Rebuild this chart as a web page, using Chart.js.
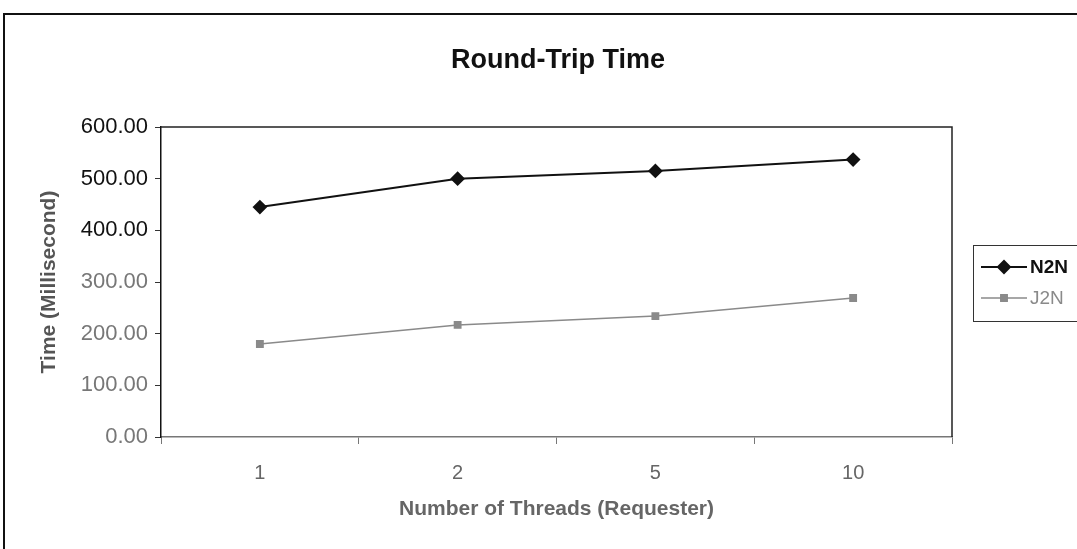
<!DOCTYPE html>
<html>
<head>
<meta charset="utf-8">
<script src="https://cdn.jsdelivr.net/npm/chart.js@4/dist/chart.umd.min.js"></script>
<style>
    body { margin: 0; background: #fff; }
    #wrap { width: 1077px; height: 549px; position: relative; }
</style>
</head>
<body>
<div id="wrap"><canvas id="graficoRtt"></canvas></div>
<script>
// dados
const threads = ["1", "2", "5", "10"];
const n2nTimes = [445, 500, 515, 537];
const j2nTimes = [180, 217, 234, 269];
const yTicks = [0, 100, 200, 300, 400, 500, 600];

const fontFamily = "'Liberation Sans', Arial, sans-serif";

// moldura, título, borda da área do gráfico e legenda
const decorPlugin = {
    id: "decor",
    beforeDraw(chart) {
        const ctx = chart.ctx;
        ctx.save();
        ctx.strokeStyle = "#111";
        ctx.lineWidth = 2;
        ctx.beginPath();
        ctx.moveTo(4, 549);
        ctx.lineTo(4, 14);
        ctx.lineTo(1077, 14);
        ctx.stroke();
        ctx.restore();
    },
    afterDraw(chart) {
        const ctx = chart.ctx;
        const area = chart.chartArea;
        ctx.save();

        // título
        ctx.fillStyle = "#111";
        ctx.font = "bold 27px " + fontFamily;
        ctx.textAlign = "center";
        ctx.textBaseline = "middle";
        ctx.fillText("Round-Trip Time", 558, 61);

        // topo e lado direito da área
        ctx.strokeStyle = "#222";
        ctx.lineWidth = 1.5;
        ctx.beginPath();
        ctx.moveTo(area.left, area.top);
        ctx.lineTo(area.right, area.top);
        ctx.lineTo(area.right, area.bottom);
        ctx.stroke();

        // legenda com borda
        const lx = 973, ly = 245, lw = 110, lh = 76;
        ctx.strokeStyle = "#333";
        ctx.lineWidth = 1;
        ctx.strokeRect(lx + 0.5, ly + 0.5, lw, lh);
        chart.data.datasets.forEach(function (ds, i) {
            const y = ly + 22 + i * 31;
            ctx.strokeStyle = ds.borderColor;
            ctx.lineWidth = ds.borderWidth;
            ctx.beginPath();
            ctx.moveTo(lx + 8, y);
            ctx.lineTo(lx + 54, y);
            ctx.stroke();
            Chart.helpers.drawPoint(ctx, {
                pointStyle: ds.pointStyle,
                radius: ds.pointRadius,
                borderWidth: 1,
                rotation: 0
            }, lx + 31, y);
            ctx.fillStyle = ds.borderColor;
            ctx.strokeStyle = ds.borderColor;
            ctx.fill();
            ctx.font = (i === 0 ? "bold " : "") + "19px " + fontFamily;
            ctx.textAlign = "left";
            ctx.fillText(ds.label, lx + 57, y + 1);
        });
        ctx.restore();
    }
};

const ctx = document.getElementById("graficoRtt").getContext("2d");

new Chart(ctx, {
    type: "line",
    data: {
        labels: threads,
        datasets: [
            {
                label: "N2N",
                data: n2nTimes,
                borderColor: "#111",
                backgroundColor: "#111",
                borderWidth: 2,
                pointStyle: "rectRot",
                pointRadius: 6,
                pointHoverRadius: 6,
                tension: 0
            },
            {
                label: "J2N",
                data: j2nTimes,
                borderColor: "#8a8a8a",
                backgroundColor: "#8a8a8a",
                borderWidth: 1.5,
                pointStyle: "rect",
                pointRadius: 4.5,
                pointHoverRadius: 4.5,
                tension: 0
            }
        ]
    },
    options: {
        responsive: true,
        maintainAspectRatio: false,
        animation: false,
        layout: { padding: { top: 127, right: 125, bottom: 0, left: 0 } },
        plugins: {
            legend: { display: false },
            title: { display: false },
            tooltip: { enabled: false }
        },
        scales: {
            x: {
                offset: true,
                grid: {
                    offset: true,
                    drawOnChartArea: false,
                    tickLength: 7,
                    color: "#777"
                },
                border: { color: "#777", width: 1.5 },
                ticks: {
                    padding: 17,
                    color: "#666",
                    font: { family: fontFamily, size: 20 }
                },
                title: {
                    display: true,
                    text: "Number of Threads (Requester)",
                    color: "#666",
                    font: { family: fontFamily, size: 21, weight: "bold" },
                    padding: { top: 0, bottom: 27 }
                },
                afterFit: function (scale) { scale.height = 112; }
            },
            y: {
                min: 0,
                max: 600,
                afterBuildTicks: function (scale) {
                    scale.ticks = yTicks.map(function (v) { return { value: v }; });
                },
                grid: {
                    drawOnChartArea: false,
                    tickLength: 6,
                    color: "#333"
                },
                border: { color: "#111", width: 1.5 },
                ticks: {
                    padding: 7,
                    color: function (c) { return c.tick && c.tick.value >= 400 ? "#111" : "#777"; },
                    font: { family: fontFamily, size: 22 },
                    callback: function (v) { return Number(v).toFixed(2); }
                },
                title: {
                    display: true,
                    text: "Time (Millisecond)",
                    color: "#555",
                    font: { family: fontFamily, size: 21, weight: "bold" },
                    padding: { top: 37, bottom: 0 }
                },
                afterFit: function (scale) { scale.width = 161; }
            }
        }
    },
    plugins: [decorPlugin]
});
</script>
</body>
</html>
